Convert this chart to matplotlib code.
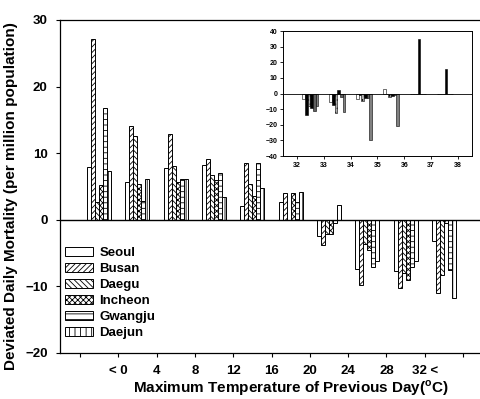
import numpy as np
import matplotlib
matplotlib.use("Agg")
import matplotlib.pyplot as plt

plt.rcParams['font.family'] = ['Liberation Sans', 'DejaVu Sans']
plt.rcParams['font.weight'] = 'bold'
plt.rcParams['hatch.linewidth'] = 0.6
plt.rcParams['mathtext.fontset'] = 'custom'
plt.rcParams['mathtext.rm'] = 'Liberation Sans:bold'
plt.rcParams['mathtext.bf'] = 'Liberation Sans:bold'

cities = ["Seoul", "Busan", "Daegu", "Incheon", "Gwangju", "Daejun"]
tick_labels = ["< 0", "4", "8", "12", "16", "20", "24", "28", "32 <"]

seoul   = [8.0, 5.6, 7.8, 8.2, 2.0, 2.7, -2.5, -7.4, -7.7, -3.2]
busan   = [27.1, 14.1, 12.9, 9.2, 8.6, 4.0, -3.8, -9.8, -10.2, -11.0]
daegu   = [2.6, 12.6, 8.1, 6.8, 5.4, 0.0, -2.2, -3.7, -8.0, -8.3]
incheon = [5.2, 5.4, 5.7, 6.0, 3.6, 4.0, -2.1, -4.5, -9.1, -0.5]
gwangju = [16.8, 2.8, 6.2, 7.1, 8.5, 2.6, -0.5, -7.1, -7.1, -7.5]
daejun  = [7.3, 6.2, 6.2, 3.4, 4.8, 4.1, 2.2, -6.2, -6.2, -11.7]
series = [seoul, busan, daegu, incheon, gwangju, daejun]

# inset: temperatures 32..38
inset_x = [32.5, 33.5, 34.5, 35.5, 36.5, 37.5]
in_seoul   = [-3.5, -5.5, -3.5, 3.0, 0, 0]
in_busan   = [-13.5, -7.5, -1.0, 0.0, 0, 0]
in_daegu   = [-8.0, -12.5, -5.0, -2.0, 0, 0]
in_incheon = [-9.0, 2.5, -3.0, -1.5, 35.0, 15.5]
in_gwangju = [-11.0, -2.0, -3.0, -1.0, 0, 0]
in_daejun  = [-8.0, -11.5, -29.5, -21.0, 0, 0]
in_series = [in_seoul, in_busan, in_daegu, in_incheon, in_gwangju, in_daejun]

hatches = [None, '//////', '\\\\\\\\\\\\', 'xxxxxx', '---', '|||']

fig = plt.figure(figsize=(4.8, 3.99), dpi=100)
ax = fig.add_axes([0.125, 0.1153, 0.875, 0.8346])

x = np.arange(len(seoul))
w = 0.104
for i, (vals, h, name) in enumerate(zip(series, hatches, cities)):
    ax.bar(x + (i - 2.5) * w, vals, width=w, color='white', edgecolor='black',
           hatch=h, linewidth=0.7, label=name)

ax.axhline(0, color='black', linewidth=1.0)
ax.set_xlim(-1.02, 9.94)
ax.set_ylim(-20, 30)
ax.set_yticks([-20, -10, 0, 10, 20, 30])
ax.set_xticks(np.arange(-0.5, 10, 1.0))
ax.set_xticklabels([""] + tick_labels + [""])
ax.tick_params(axis='both', direction='out', length=3, width=0.8, labelsize=9.5, pad=6)
ax.spines['right'].set_visible(False)
for s in ['left', 'bottom', 'top']:
    ax.spines[s].set_linewidth(0.9)
for lab in ax.get_xticklabels() + ax.get_yticklabels():
    lab.set_fontweight('bold')

ax.set_ylabel("Deviated Daily Mortality (per million population)", fontsize=11,
              fontweight='bold')
ax.yaxis.set_label_coords(-0.10, 0.47)
ax.set_xlabel(r"Maximum Temperature of Previous Day($^{\mathbf{o}}$C)", fontsize=11,
              fontweight='bold')
ax.xaxis.set_label_coords(0.55, -0.077)

leg = ax.legend(loc='upper left', bbox_to_anchor=(0.012, 0.318), frameon=False,
                fontsize=9.5, handlelength=2.1, handleheight=0.62, labelspacing=0.3,
                handletextpad=0.5, borderpad=0, borderaxespad=0)
for t in leg.get_texts():
    t.set_fontweight('bold')

# inset
ax2 = fig.add_axes([0.5896, 0.609, 0.3937, 0.313])
in_colors = ['white', 'black', '#b0b0b0', 'black', '#606060', '#808080']
in_hatch = [None, None, '....', None, None, None]
wi = 0.1
xi = np.array(inset_x)
for i, vals in enumerate(in_series):
    ax2.bar(xi + (i - 2.5) * wi, vals, width=wi, color=in_colors[i],
            edgecolor='black', hatch=in_hatch[i], linewidth=0.4)
ax2.axhline(0, color='black', linewidth=0.6)
ax2.set_xlim(31.48, 38.52)
ax2.set_ylim(-40, 40)
ax2.set_yticks(np.arange(-40, 41, 10))
ax2.set_xticks(np.arange(32, 39, 1))
ax2.tick_params(axis='both', direction='out', length=2, width=0.6, labelsize=5, pad=2)
for lab in ax2.get_xticklabels() + ax2.get_yticklabels():
    lab.set_fontweight('bold')
for s in ax2.spines.values():
    s.set_linewidth(0.7)

fig.savefig("out.png", dpi=100)
